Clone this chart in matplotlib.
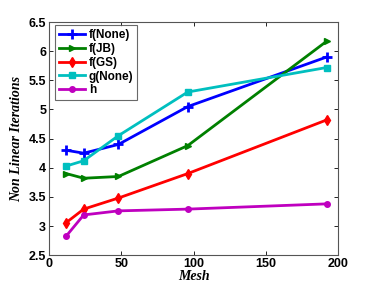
import numpy as np
import matplotlib
matplotlib.use('Agg')
import matplotlib.pyplot as plt

# 数据
mesh = [12, 24, 48, 96, 192]
f_none = [4.30, 4.25, 4.40, 5.05, 5.90]
f_jb = [3.90, 3.82, 3.85, 4.38, 6.17]
f_gs = [3.06, 3.29, 3.48, 3.90, 4.82]
g_none = [4.03, 4.12, 4.55, 5.30, 5.72]
h = [2.83, 3.19, 3.26, 3.29, 3.38]

plt.rcParams['font.family'] = ['Liberation Sans', 'DejaVu Sans']

fig = plt.figure(figsize=(3.74, 2.87), dpi=100)
ax = fig.add_axes([0.131, 0.111, 0.773, 0.812])

ax.plot(mesh, f_none, color='#0000ff', marker='+', ms=7, mew=2, lw=2, label='f(None)')
ax.plot(mesh, f_jb, color='#008000', marker='>', ms=5, lw=2, label='f(JB)')
ax.plot(mesh, f_gs, color='#ff0000', marker='d', ms=5, lw=2, label='f(GS)')
ax.plot(mesh, g_none, color='#00bfbf', marker='s', ms=4, lw=2, label='g(None)')
ax.plot(mesh, h, color='#bf00bf', marker='o', ms=4, lw=2, label='h')

ax.set_xlim(0, 200)
ax.set_ylim(2.5, 6.5)
ax.set_xticks([0, 50, 100, 150, 200])
ax.set_yticks([2.5, 3, 3.5, 4, 4.5, 5, 5.5, 6, 6.5])
ax.set_yticklabels(['2.5', '3', '3.5', '4', '4.5', '5', '5.5', '6', '6.5'])
ax.tick_params(direction='in', top=True, right=True, length=3, width=0.6, labelsize=9, pad=2)
for lab in ax.get_xticklabels() + ax.get_yticklabels():
    lab.set_fontweight('bold')
for s in ax.spines.values():
    s.set_linewidth(0.8)
    s.set_color('#555555')

ax.set_xlabel('Mesh', family='Liberation Serif', style='italic', fontweight='bold', fontsize=10, labelpad=0)
ax.set_ylabel('Non Linear Iterations', family='Liberation Serif', style='italic', fontweight='bold', fontsize=10, labelpad=4)

leg = ax.legend(loc='upper left', bbox_to_anchor=(0.021, 0.987), borderaxespad=0,
                prop={'weight': 'bold', 'size': 8.5}, fancybox=False,
                edgecolor='#444444', handlelength=2.2, borderpad=0.35, labelspacing=0.15, handletextpad=0.3)
leg.get_frame().set_linewidth(0.8)

fig.savefig('out.png', dpi=100)
